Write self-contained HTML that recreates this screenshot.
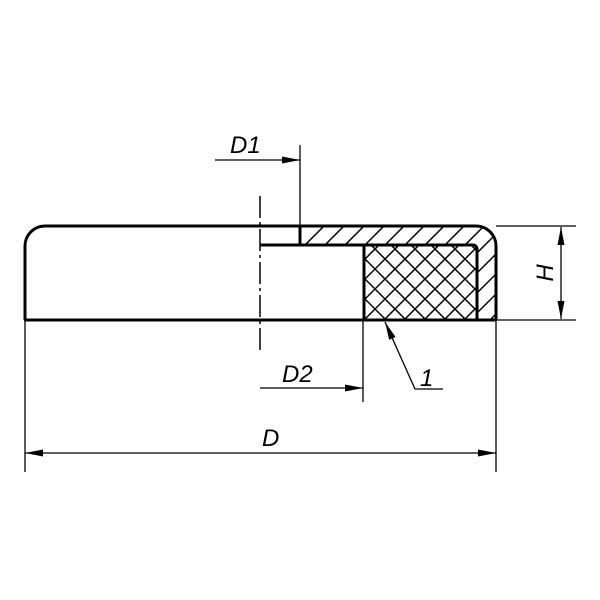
<!DOCTYPE html>
<html><head><meta charset="utf-8"><style>html,body{margin:0;padding:0;background:#fff}svg{display:block}text{font-family:"Liberation Sans",sans-serif;font-style:italic;font-size:24px;fill:#000}</style></head>
<body>
<svg width="600" height="600" viewBox="0 0 600 600" xmlns="http://www.w3.org/2000/svg">
<defs>
<clipPath id="band"><path d="M301 227 H476 A20 20 0 0 1 495 246 V319 H478 V250 A5 5 0 0 0 473 245 H301 Z"/></clipPath>
<clipPath id="cross"><rect x="364" y="246" width="113" height="73"/></clipPath>
<marker id="a" viewBox="0 0 18 7" refX="18" refY="3.5" markerWidth="18" markerHeight="7" markerUnits="userSpaceOnUse" orient="auto-start-reverse"><path d="M0 0 L18 3.5 L0 7 Z"/></marker>
</defs>
<g clip-path="url(#band)" stroke="#000" stroke-width="1.5">
<path d="M290 260 L340 210 M310 260 L360 210 M330 260 L380 210 M350 260 L400 210 M370 260 L420 210 M390 260 L440 210 M410 260 L460 210 M430 260 L480 210 M450 260 L500 210 M470 260 L520 210 M420 330 L520 230 M440 330 L540 230 M460 330 L560 230 M480 330 L580 230"/>
</g>
<g clip-path="url(#cross)" stroke="#000" stroke-width="1.5">
<path d="M264 320 L364 220 M284 320 L384 220 M304 320 L404 220 M324 320 L424 220 M344 320 L444 220 M364 320 L464 220 M384 320 L484 220 M404 320 L504 220 M424 320 L524 220 M444 320 L544 220 M464 320 L564 220"/>
<path d="M266 220 L366 320 M286 220 L386 320 M306 220 L406 320 M326 220 L426 320 M346 220 L446 320 M366 220 L466 320 M386 220 L486 320 M406 220 L506 320 M426 220 L526 320 M446 220 L546 320"/>
</g>
<g fill="none" stroke="#000" stroke-width="3">
<path d="M25 320 V246 A20 20 0 0 1 45 226 H476 A20 20 0 0 1 496 246 V320"/>
<path d="M24 320 H496"/>
<path d="M260 245 H473 A4 4 0 0 1 477 249 V320"/>
<path d="M300 226 V245"/>
<path d="M364 245 V320"/>
</g>
<path d="M260 196 V350" stroke="#000" stroke-width="1.5" stroke-dasharray="22 4 3 4"/>
<g stroke="#000" stroke-width="1.3" fill="none">
<path d="M300 145 V226"/>
<path d="M215 160 H300" marker-end="url(#a)"/>
<path d="M363 320 V402"/>
<path d="M260 388 H363" marker-end="url(#a)"/>
<path d="M496 226 H576 M496 320 H576"/>
<path d="M561 227 V319" marker-start="url(#a)" marker-end="url(#a)"/>
<path d="M25 320 V472 M496 320 V472"/>
<path d="M25 453 H496" marker-start="url(#a)" marker-end="url(#a)"/>
<path d="M443 389 H415 L385 322" marker-end="url(#a)"/>
</g>
<text x="230" y="153">D1</text>
<text x="282" y="382">D2</text>
<text x="262" y="446">D</text>
<text x="420" y="386">1</text>
<text transform="translate(553 273) rotate(-90)" text-anchor="middle">H</text>
</svg>
</body></html>
